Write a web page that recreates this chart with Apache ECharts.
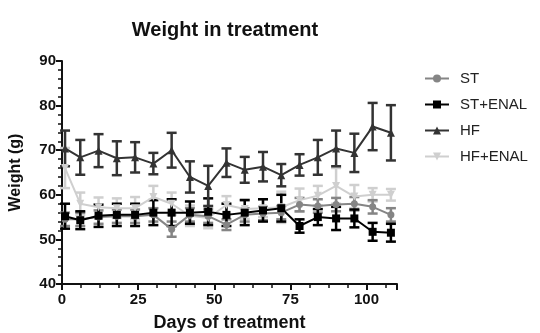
<!DOCTYPE html>
<html>
<head>
<meta charset="utf-8">
<script src="https://cdn.jsdelivr.net/npm/echarts@6/dist/echarts.min.js"></script>
<style>
html,body{margin:0;padding:0;background:#fff;}
#c{width:540px;height:333px;}
</style>
</head>
<body>
<div id="c"></div>
<script>
const days = [1,6,12,18,24,30,36,42,48,54,60,66,72,78,84,90,96,102,108];
const xTicks = [0,25,50,75,100];
const yTicks = [40,50,60,70,80,90];

const ST      = [54.5,54.5,55,55.2,55.2,55.5,52.3,55.5,55.2,53.3,55.5,55.8,56,57.8,57.5,57.8,58,57.3,55.5];
const ST_err  = [1.5,1.5,1.5,1.5,1.5,1.5,1.7,1.5,1.5,1.2,1.5,1.5,1.5,1.5,1.5,1.5,1.5,1.5,1.5];
const STE     = [55.2,54.3,55.3,55.5,55.5,56,56,56,56.2,55.5,56,56.5,57,53,55,54.7,54.7,51.7,51.5];
const STE_err = [2.8,2,2.5,2.5,2.5,2.8,3,2.5,3,2.5,2.8,2.5,3,1.5,1.8,2.6,2,2,2];
const HF      = [70.4,68.4,69.9,68.2,68.4,67.0,70.0,64.0,62.0,67.2,65.6,66.3,64.4,66.7,68.4,70.4,69.4,75.3,73.9];
const HF_err  = [4.0,3.9,3.7,3.8,3.4,2.4,3.9,3.5,4.5,3.2,2.9,3.3,2.5,2.4,3.9,4.0,4.3,5.3,6.2];
const HFE     = [66,58,57.2,57,57,59.5,58,55.3,54.8,57.7,56.8,57,57.2,58.8,59.8,62,59.6,60,60];
const HFE_err = [4.5,2.5,2.2,2.2,2.5,2.5,2.5,2.3,2.3,2,2.2,2,3.5,2.6,2.2,4,2.6,1.5,1.3];

const names = ['ST','ST+ENAL','HF','HF+ENAL'];
const colors = ['#858585','#000000','#333333','#cfcfcf'];
const symbols = ['circle','rect','triangle','triangle'];
const rotates = [0,0,0,180];
const sizes = [7,8,8,8];
const means = [ST, STE, HF, HFE];
const errs = [ST_err, STE_err, HF_err, HFE_err];

const FONT = '"Liberation Sans", Arial, sans-serif';

const series = [];
const order = [3,0,1,2];
order.forEach(i => {
  const col = colors[i];
  series.push({
    type: 'custom',
    name: 'err ' + names[i],
    data: days.map((d,k) => [d, means[i][k] - errs[i][k], means[i][k] + errs[i][k]]),
    renderItem: function(params, api) {
      const lo = api.coord([api.value(0), api.value(1)]);
      const hi = api.coord([api.value(0), api.value(2)]);
      const w = 5;
      const st = {stroke: col, lineWidth: 2.5};
      return {
        type: 'group',
        children: [
          {type:'line', shape:{x1:lo[0], y1:lo[1], x2:hi[0], y2:hi[1]}, style:st},
          {type:'line', shape:{x1:lo[0]-w, y1:lo[1], x2:lo[0]+w, y2:lo[1]}, style:st},
          {type:'line', shape:{x1:hi[0]-w, y1:hi[1], x2:hi[0]+w, y2:hi[1]}, style:st}
        ]
      };
    },
    itemStyle: {color: col},
    z: 2,
    silent: true
  });
  series.push({
    type: 'line',
    name: names[i],
    data: days.map((d,k) => [d, means[i][k]]),
    symbol: symbols[i],
    symbolRotate: rotates[i],
    symbolSize: sizes[i],
    showAllSymbol: true,
    color: col,
    lineStyle: {color: col, width: 2},
    itemStyle: {color: col, borderWidth: 0},
    z: 3,
    animation: false
  });
});

const chart = echarts.init(document.getElementById('c'), null, {renderer: 'canvas'});
chart.setOption({
  animation: false,
  backgroundColor: '#fff',
  title: {
    text: 'Weight in treatment',
    left: 220, top: 15, textAlign: 'center',
    textStyle: {fontFamily: FONT, fontWeight: 'bold', fontSize: 20, color: '#111'}
  },
  legend: {
    orient: 'vertical',
    left: 419, top: 66,
    itemWidth: 24, itemHeight: 10, itemGap: 11,
    data: names.map(n => ({name: n})),
    textStyle: {fontFamily: FONT, fontSize: 15, color: '#222', padding: [0,0,0,6]},
    selectedMode: false
  },
  grid: {left: 62, right: 143, top: 61, bottom: 49, containLabel: false, outerBoundsMode: 'none'},
  xAxis: {
    type: 'value', min: 0, max: 110, interval: 25,
    name: 'Days of treatment', nameLocation: 'middle', nameGap: 30,
    nameTextStyle: {fontFamily: FONT, fontWeight: 'bold', fontSize: 18, color: '#111'},
    axisLine: {onZero: false, lineStyle: {color: '#111', width: 2}},
    axisTick: {show: true, inside: false, length: 6, lineStyle: {color: '#111', width: 2}},
    minorTick: {show: true, splitNumber: 4, length: 4, lineStyle: {color: '#111', width: 1.5}},
    splitLine: {show: false},
    axisLabel: {fontFamily: FONT, fontWeight: 'bold', fontSize: 15, color: '#111', margin: 8,
      formatter: v => xTicks.indexOf(v) >= 0 ? String(v) : ''}
  },
  yAxis: {
    type: 'value', min: 40, max: 90, interval: 10,
    name: 'Weight (g)', nameLocation: 'middle', nameGap: 38, nameRotate: 90,
    nameTextStyle: {fontFamily: FONT, fontWeight: 'bold', fontSize: 16, color: '#111'},
    axisLine: {show: true, onZero: false, lineStyle: {color: '#111', width: 2}},
    axisTick: {show: true, inside: false, length: 6, lineStyle: {color: '#111', width: 2}},
    minorTick: {show: true, splitNumber: 5, length: 4, lineStyle: {color: '#111', width: 1.5}},
    splitLine: {show: false},
    axisLabel: {fontFamily: FONT, fontWeight: 'bold', fontSize: 15, color: '#111', margin: 6,
      formatter: v => yTicks.indexOf(v) >= 0 ? String(v) : ''}
  },
  series: series
});
</script>
</body>
</html>
